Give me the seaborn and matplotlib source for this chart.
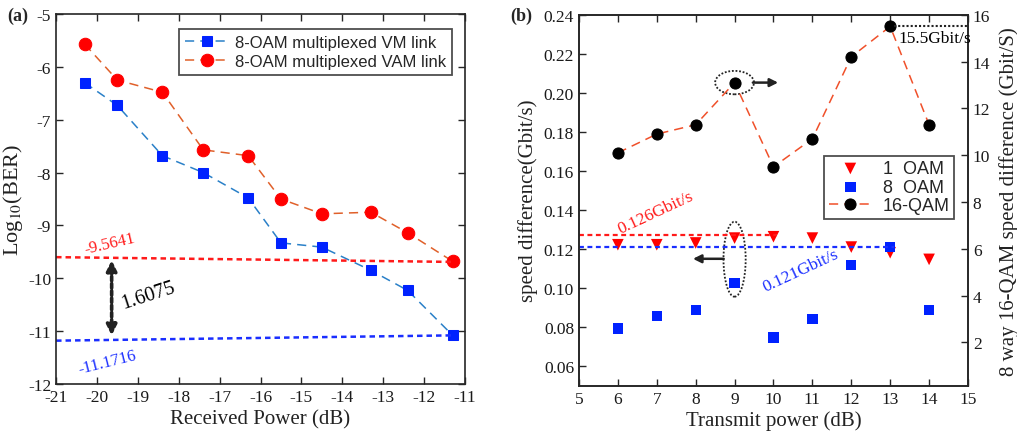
import numpy as np
import pandas as pd
import matplotlib
matplotlib.use("Agg")
import matplotlib.pyplot as plt
from matplotlib.patches import Ellipse
import seaborn as sns

# ---- panel (a): BER versus received power ----
rx_power = [-20.3, -19.5, -18.4, -17.4, -16.3, -15.5, -14.5, -13.3, -12.4, -11.3]
vm_ber = [-6.30, -6.73, -7.68, -8.00, -8.48, -9.33, -9.41, -9.85, -10.23, -11.08]
vam_ber = [-5.57, -6.25, -6.48, -7.57, -7.68, -8.50, -8.78, -8.75, -9.14, -9.68]
ref_x = [-21.0, -11.3]
vam_ref = [-9.60, -9.69]
vm_ref = [-11.18, -11.08]
vam_label = "-9.5641"
vm_label = "-11.1716"
gap_label = "1.6075"

# ---- panel (b): speed difference versus transmit power ----
tx_power = [6, 7, 8, 9, 10, 11, 12, 13, 14]
oam1 = [0.1222, 0.1222, 0.1231, 0.1256, 0.1263, 0.1256, 0.1210, 0.1181, 0.1147]
oam8 = [0.0793, 0.0857, 0.0886, 0.1026, 0.0747, 0.0840, 0.1120, 0.1210, 0.0886]
qam16 = [10.1, 10.9, 11.3, 13.1, 9.5, 10.7, 14.2, 15.5, 11.3]
oam1_ref_x = [5, 10.1]
oam1_ref = [0.127, 0.127]
oam8_ref_x = [5, 13.1]
oam8_ref = [0.121, 0.121]
qam_ref_x = [13.1, 15]
qam_ref = [15.5, 15.5]

sns.set_theme(style="ticks")
serif = ["Liberation Serif", "DejaVu Serif"]
sans = ["Liberation Sans", "DejaVu Sans"]
plt.rcParams["font.family"] = serif
plt.rcParams["mathtext.fontset"] = "stix"
plt.rcParams["axes.unicode_minus"] = False
plt.rcParams["axes.edgecolor"] = "#262626"
plt.rcParams["axes.linewidth"] = 1.2
plt.rcParams["xtick.color"] = "#262626"
plt.rcParams["ytick.color"] = "#262626"

fig = plt.figure(figsize=(10.17, 4.39), dpi=100)
ax_a = fig.add_axes([0.0551, 0.123, 0.4021, 0.8428])
ax_b = fig.add_axes([0.5693, 0.1191, 0.3825, 0.8451])

TICK_SIZE = 12.5


def style_ticks(ax, **kw):
    ax.tick_params(direction="in", length=5, width=1.0, labelsize=TICK_SIZE,
                   labelcolor="#1a1a1a", labelfontfamily=serif,
                   colors="#262626", **kw)


# ---------------- panel (a) ----------------
df_a = pd.DataFrame({"power": rx_power, "vm": vm_ber, "vam": vam_ber})
sns.lineplot(data=df_a, x="power", y="vm", ax=ax_a, color="#2a80c8",
             linestyle=(0, (6, 4)), linewidth=1.1, marker="s", markersize=7,
             markerfacecolor="#0022ff", markeredgecolor="#0022ff",
             label="8-OAM multiplexed VM link")
sns.lineplot(data=df_a, x="power", y="vam", ax=ax_a, color="#e0602a",
             linestyle=(0, (6, 4)), linewidth=1.1, marker="o", markersize=9,
             markerfacecolor="#ff0000", markeredgecolor="#ff0000",
             label="8-OAM multiplexed VAM link")
sns.lineplot(x=ref_x, y=vam_ref, ax=ax_a, color="#ff1a1a",
             linestyle=(0, (2.2, 1.6)), linewidth=1.8, legend=False)
sns.lineplot(x=ref_x, y=vm_ref, ax=ax_a, color="#1a2eff",
             linestyle=(0, (2.2, 1.6)), linewidth=1.8, legend=False)

ax_a.annotate("", xy=(-19.64, -9.66), xytext=(-19.64, -11.08),
              arrowprops=dict(arrowstyle="<|-|>", color="#222222", lw=2.6,
                              linestyle=(0, (1.2, 0.8)), mutation_scale=15,
                              shrinkA=0, shrinkB=0))
ax_a.text(-19.70, -9.33, vam_label, color="#ff1a1a", fontsize=12,
          rotation=13, ha="center", va="center")
ax_a.text(-19.74, -11.58, vm_label, color="#1a2eff", fontsize=12,
          rotation=14, ha="center", va="center")
ax_a.text(-18.74, -10.31, gap_label, color="black", fontsize=14.5,
          rotation=18, ha="center", va="center")

ax_a.set_xlim(-21, -11)
ax_a.set_ylim(-12, -5)
ax_a.set_xticks(np.arange(-21, -10, 1))
ax_a.set_yticks(np.arange(-12, -4, 1))
ax_a.set_xlabel("Received Power (dB)", fontsize=15, color="#222222",
                labelpad=3)
ax_a.set_ylabel(r"Log$_{10}$(BER)", fontsize=16, color="#222222", labelpad=2)
style_ticks(ax_a, top=True, right=True)
leg_a = ax_a.legend(loc="upper right", bbox_to_anchor=(0.968, 0.959),
                    prop={"family": sans, "size": 12}, frameon=True,
                    fancybox=False, edgecolor="#222222", borderpad=0.35,
                    handlelength=2.6, labelspacing=0.25, handletextpad=0.4,
                    borderaxespad=0)
leg_a.get_frame().set_linewidth(1.3)

# ---------------- panel (b) ----------------
df_b = pd.DataFrame({"power": tx_power, "oam1": oam1, "oam8": oam8,
                     "qam": qam16})
ax_b2 = ax_b.twinx()

sns.scatterplot(data=df_b, x="power", y="oam1", ax=ax_b, marker="v", s=70,
                color="#ff0000", edgecolor="none", label="1  OAM")
sns.scatterplot(data=df_b, x="power", y="oam8", ax=ax_b, marker="s", s=55,
                color="#0022ff", edgecolor="none", label="8  OAM")
sns.lineplot(x=oam1_ref_x, y=oam1_ref, ax=ax_b, color="#ff1a1a",
             linestyle=(0, (2.2, 1.6)), linewidth=1.6, legend=False)
sns.lineplot(x=oam8_ref_x, y=oam8_ref, ax=ax_b, color="#1a2eff",
             linestyle=(0, (2.2, 1.6)), linewidth=1.6, legend=False)

sns.lineplot(data=df_b, x="power", y="qam", ax=ax_b2, color="#f0502a",
             linestyle=(0, (6, 4)), linewidth=1.1, marker="o", markersize=8,
             markerfacecolor="black", markeredgecolor="black",
             label="16-QAM")
sns.lineplot(x=qam_ref_x, y=qam_ref, ax=ax_b2, color="#222222",
             linestyle=(0, (1, 1)), linewidth=1.5, legend=False)

ax_b2.add_patch(Ellipse((9, 13.1), 1.0, 1.0, fill=False, edgecolor="#222222",
                        linestyle=(0, (1, 1)), linewidth=1.3))
ax_b2.annotate("", xy=(10.12, 13.1), xytext=(9.47, 13.1),
               arrowprops=dict(arrowstyle="-|>", color="#222222", lw=1.8,
                               mutation_scale=12, shrinkA=0, shrinkB=0))
ax_b.add_patch(Ellipse((9, 0.1148), 0.57, 0.0384, fill=False,
                       edgecolor="#222222", linestyle=(0, (1, 1)),
                       linewidth=1.3))
ax_b.annotate("", xy=(7.93, 0.115), xytext=(8.72, 0.115),
              arrowprops=dict(arrowstyle="-|>", color="#222222", lw=1.8,
                              mutation_scale=12, shrinkA=0, shrinkB=0))

ax_b.text(6.98, 0.139, "0.126Gbit/s", color="#ff1a1a", fontsize=12.5,
          rotation=25, ha="center", va="center")
ax_b.text(10.70, 0.1091, "0.121Gbit/s", color="#1a2eff", fontsize=12.5,
          rotation=25, ha="center", va="center")
ax_b2.text(13.2, 15.0, "15.5Gbit/s", color="black", fontsize=12.5,
           ha="left", va="center")

ax_b.set_xlim(5, 15)
ax_b.set_ylim(0.05, 0.24)
ax_b.set_xticks(np.arange(5, 16, 1))
yt = np.arange(0.06, 0.2401, 0.02)
ax_b.set_yticks(yt)
ax_b.set_yticklabels([f"{v:.2f}" for v in yt])
ax_b2.set_ylim(0.15, 16)
ax_b2.set_yticks(np.arange(2, 17, 2))
ax_b.set_xlabel("Transmit power (dB)", fontsize=15, color="#222222",
                labelpad=3)
ax_b.set_ylabel("speed difference(Gbit/s)", fontsize=15, color="#222222",
                labelpad=4)
ax_b2.set_ylabel("8 way 16-QAM speed difference (Gbit/S)", fontsize=15,
                 color="#222222", labelpad=6)
style_ticks(ax_b, top=True, right=False)
style_ticks(ax_b2)

if ax_b.get_legend() is not None:
    ax_b.get_legend().remove()
if ax_b2.get_legend() is not None:
    ax_b2.get_legend().remove()
h1, l1 = ax_b.get_legend_handles_labels()
h2, l2 = ax_b2.get_legend_handles_labels()
leg_b = ax_b2.legend(h1 + h2, l1 + l2, loc="upper right",
                     bbox_to_anchor=(0.965, 0.62),
                     prop={"family": sans, "size": 13}, frameon=True,
                     fancybox=False, edgecolor="#222222", borderpad=0.25,
                     handlelength=2.4, labelspacing=0.08, handletextpad=0.6,
                     borderaxespad=0)
leg_b.get_frame().set_linewidth(1.3)
leg_b.set_zorder(5)

fig.text(0.007, 0.962, "(a)", fontsize=13, fontweight="bold",
         family=serif, va="center", ha="left")
fig.text(0.502, 0.962, "(b)", fontsize=13, fontweight="bold",
         family=serif, va="center", ha="left")

fig.savefig("out.png", dpi=100)
